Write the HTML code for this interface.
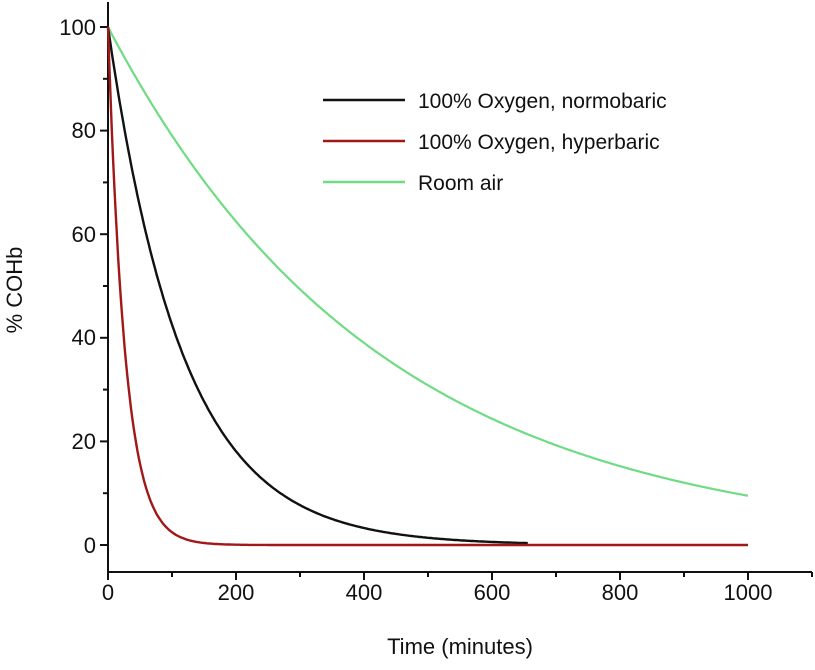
<!DOCTYPE html>
<html><head><meta charset="utf-8"><style>
body{margin:0;background:#fff}
svg text{font-family:"Liberation Sans",sans-serif;fill:#111}
</style></head><body>
<svg id="s" width="815" height="665" xmlns="http://www.w3.org/2000/svg">
<g stroke="#111" stroke-width="2" fill="none">
<line x1="108" y1="2" x2="108" y2="573"/>
<line x1="107" y1="572" x2="812" y2="572"/>
</g>
<g id="ticks" stroke="#111" stroke-width="2"></g>
<g font-size="22" text-anchor="end">
<text x="96" y="553">0</text><text x="96" y="449">20</text><text x="96" y="345">40</text>
<text x="96" y="242">60</text><text x="96" y="138">80</text><text x="96" y="35">100</text>
</g>
<g font-size="22" text-anchor="middle">
<text x="108" y="600">0</text><text x="236" y="600">200</text><text x="364" y="600">400</text>
<text x="492" y="600">600</text><text x="620" y="600">800</text><text x="748" y="600">1000</text>
<text x="460" y="654">Time (minutes)</text>
<text transform="translate(22,290) rotate(-90)">% COHb</text>
</g>
<path id="g" stroke="#6fdc84" stroke-width="2.2" fill="none"/>
<path id="k" stroke="#111" stroke-width="2.4" fill="none"/>
<path id="r" stroke="#a01818" stroke-width="2.4" fill="none"/>
<line x1="323" y1="100" x2="405" y2="100" stroke="#111" stroke-width="2.4"/>
<line x1="323" y1="141" x2="405" y2="141" stroke="#a01818" stroke-width="2.4"/>
<line x1="323" y1="182" x2="405" y2="182" stroke="#6fdc84" stroke-width="2.4"/>
<g font-size="21">
<text x="418" y="108">100% Oxygen, normobaric</text>
<text x="418" y="149">100% Oxygen, hyperbaric</text>
<text x="418" y="190">Room air</text>
</g>
</svg>
<script>
var X=t=>108+t*0.64, Y=v=>545-v*5.18;
function p(T,end){var d="";for(var t=0;t<=end;t+=2){d+=(t?"L":"M")+X(t).toFixed(1)+","+Y(100*Math.exp(-t/T)).toFixed(1);}return d;}
document.getElementById("g").setAttribute("d",p(425,1000));
document.getElementById("k").setAttribute("d",p(117,656));
document.getElementById("r").setAttribute("d",p(27,1000));
var tk="";
for(var v=0;v<=100;v+=10){var y=Y(v);tk+='<line x1="'+(v%20?103:100)+'" y1="'+y+'" x2="108" y2="'+y+'"/>';}
for(var t=0;t<=1100;t+=100){var x=X(t);tk+='<line x1="'+x+'" y1="572" x2="'+x+'" y2="'+(t%200?577:580)+'"/>';}
document.getElementById("ticks").innerHTML=tk;
</script>
</body></html>
